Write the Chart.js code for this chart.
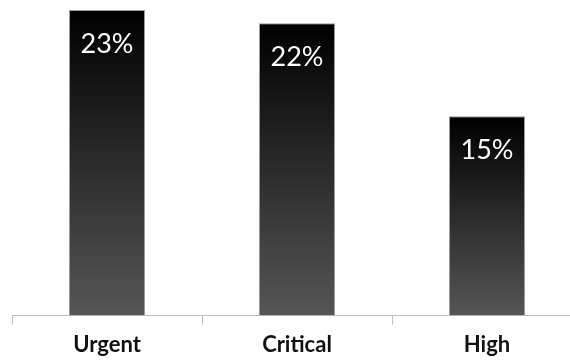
<!DOCTYPE html>
<html>
<head>
<meta charset="utf-8">
<script src="https://cdn.jsdelivr.net/npm/chart.js@4"></script>
<style>
  html, body { margin: 0; padding: 0; background: #fff; overflow: hidden; }
  #wrap { width: 600px; height: 360px; }
</style>
</head>
<body>
<div id="wrap"><canvas id="priorityChart"></canvas></div>
<script>
const categories = ['Urgent', 'Critical', 'High'];
const shares = [23, 22, 15];
const valueLabels = ['23%', '22%', '15%'];

// white % label near the top of each bar
const barLabels = {
    id: 'barLabels',
    afterDatasetsDraw(chart) {
        const ctx = chart.ctx;
        ctx.save();
        ctx.fillStyle = '#fff';
        ctx.font = '27px Lato';
        ctx.textAlign = 'center';
        ctx.textBaseline = 'top';
        chart.getDatasetMeta(0).data.forEach((bar, i) => {
            ctx.fillText(valueLabels[i], bar.x, bar.y + 21);
        });
        ctx.restore();
    }
};

new Chart(document.getElementById('priorityChart').getContext('2d'), {
    type: 'bar',
    data: { labels: categories, datasets: [{
        data: shares,
        backgroundColor: function (c) {
            const chart = c.chart;
            const y = chart.scales.y;
            if (!y || c.dataIndex === undefined) return '#222';
            const top = y.getPixelForValue(shares[c.dataIndex]);
            const bottom = y.getPixelForValue(0);
            if (!isFinite(top) || !isFinite(bottom) || top === bottom) return '#222';
            const g = chart.ctx.createLinearGradient(0, top, 0, bottom);
            g.addColorStop(0, '#000');
            g.addColorStop(1, '#565656');
            return g;
        },
        borderColor: '#9a9a9a',
        borderWidth: { top: 1, left: 1, right: 1, bottom: 0 },
        borderSkipped: 'bottom',
        barPercentage: 0.4,
        categoryPercentage: 1
    }]},
    options: {
        responsive: true, maintainAspectRatio: false, animation: false,
        layout: { padding: { left: 12, right: 18, top: 0, bottom: -5 } },
        plugins: { legend: { display: false }, tooltip: { enabled: false } },
        scales: {
            y: { display: false, min: 0, max: 23.75 },
            x: {
                border: { display: true, color: '#bdbdbd', width: 1 },
                grid: { display: true, drawOnChartArea: false, color: '#bdbdbd', tickLength: 9, offset: true },
                ticks: { color: '#111', padding: 7, font: { family: 'Lato', size: 22, weight: 'bold' } }
            }
        }
    },
    plugins: [barLabels]
});
</script>
</body>
</html>
